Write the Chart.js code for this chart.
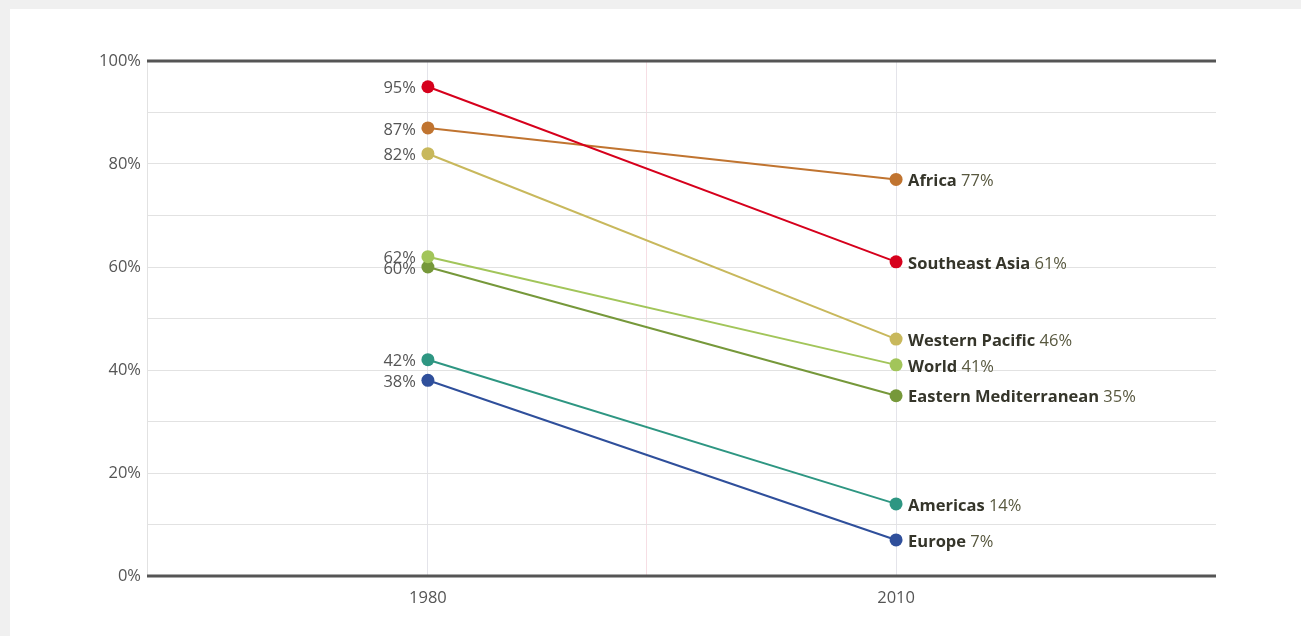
<!DOCTYPE html>
<html>
<head>
<meta charset="utf-8">
<script src="https://cdn.jsdelivr.net/npm/chart.js@4/dist/chart.umd.min.js"></script>
<style>
  html, body { margin: 0; padding: 0; background: #f0f0f0; overflow: hidden; }
  #panel { position: absolute; left: 10px; top: 9px; width: 1291px; height: 627px; background: #fff; }
  #chart { display: block; }
</style>
</head>
<body>
<div id="panel"><canvas id="chart" width="1291" height="627"></canvas></div>
<script>
const years = [1980, 2010];
const regions = ['Southeast Asia', 'Africa', 'Western Pacific', 'World', 'Eastern Mediterranean', 'Americas', 'Europe'];
const values1980 = [95, 87, 82, 62, 60, 42, 38];
const values2010 = [61, 77, 46, 41, 35, 14, 7];
const colors = ['#d6001c', '#c07430', '#c8b85c', '#a2c55a', '#76983a', '#2e9682', '#2f4f9b'];
const yTicks = [0, 20, 40, 60, 80, 100];

const FONT = '"Open Sans", "Noto Sans", sans-serif';
const FS = 16.5;

// Value labels at both ends of each slope line
const endLabels = {
  id: 'endLabels',
  afterDatasetsDraw(chart) {
    const ctx = chart.ctx;
    ctx.save();
    ctx.textBaseline = 'middle';
    chart.data.datasets.forEach((ds, i) => {
      const meta = chart.getDatasetMeta(i);
      const p0 = meta.data[0];
      const p1 = meta.data[1];

      // left side: start value
      ctx.font = FS + 'px ' + FONT;
      ctx.fillStyle = '#555';
      ctx.textAlign = 'right';
      ctx.fillText(values1980[i] + '%', p0.x - 12, p0.y + 2);

      // right side: bold region name then end value
      ctx.textAlign = 'left';
      ctx.font = 'bold ' + FS + 'px ' + FONT;
      ctx.fillStyle = '#35352a';
      const name = regions[i];
      ctx.fillText(name, p1.x + 12, p1.y + 2);
      const w = ctx.measureText(name + ' ').width;
      ctx.font = FS + 'px ' + FONT;
      ctx.fillStyle = '#58583f';
      ctx.fillText(values2010[i] + '%', p1.x + 12 + w, p1.y + 2);
    });
    ctx.restore();
  }
};

// Heavy rules along the top and bottom of the plot
const frameRules = {
  id: 'frameRules',
  afterDraw(chart) {
    const { ctx, chartArea } = chart;
    ctx.save();
    ctx.strokeStyle = '#555';
    ctx.lineWidth = 3;
    [chartArea.top, chartArea.bottom].forEach(y => {
      ctx.beginPath();
      ctx.moveTo(chartArea.left, y);
      ctx.lineTo(chartArea.right, y);
      ctx.stroke();
    });
    ctx.restore();
  }
};

const datasets = regions.map((r, i) => ({
  label: r,
  data: years.map((y, j) => ({ x: y, y: j === 0 ? values1980[i] : values2010[i] })),
  borderColor: colors[i],
  backgroundColor: colors[i],
  pointBackgroundColor: colors[i],
  pointBorderWidth: 0,
  pointRadius: 6.5,
  borderWidth: 2,
  tension: 0
}));

new Chart(document.getElementById('chart'), {
  type: 'line',
  data: { datasets },
  options: {
    responsive: false,
    animation: false,
    layout: { padding: { top: 52, right: 85, bottom: 0, left: 0 } },
    plugins: { legend: { display: false }, tooltip: { enabled: false } },
    scales: {
      x: {
        type: 'linear',
        min: 1962,
        max: 2030.5,
        afterBuildTicks(scale) {
          scale.ticks = [{ value: 1980 }, { value: 1994 }, { value: 2010 }];
        },
        afterFit(scale) { scale.height = 60; },
        grid: {
          color: ctx => ctx.tick && ctx.tick.value === 1994 ? 'rgba(240,200,210,0.6)' : '#e4e4ea',
          drawTicks: false
        },
        border: { display: false },
        ticks: {
          padding: 12,
          color: '#555',
          font: { family: FONT, size: FS },
          callback: v => years.includes(v) ? String(v) : ''
        }
      },
      y: {
        min: 0,
        max: 100,
        afterFit(scale) { scale.width = 137; },
        ticks: {
          stepSize: 10,
          padding: 6,
          color: '#555',
          font: { family: FONT, size: FS },
          callback: v => yTicks.includes(v) ? v + '%' : ''
        },
        grid: { color: '#e2e2e2', drawTicks: false },
        border: { color: '#e2e2e2' }
      }
    }
  },
  plugins: [endLabels, frameRules]
});
</script>
</body>
</html>
